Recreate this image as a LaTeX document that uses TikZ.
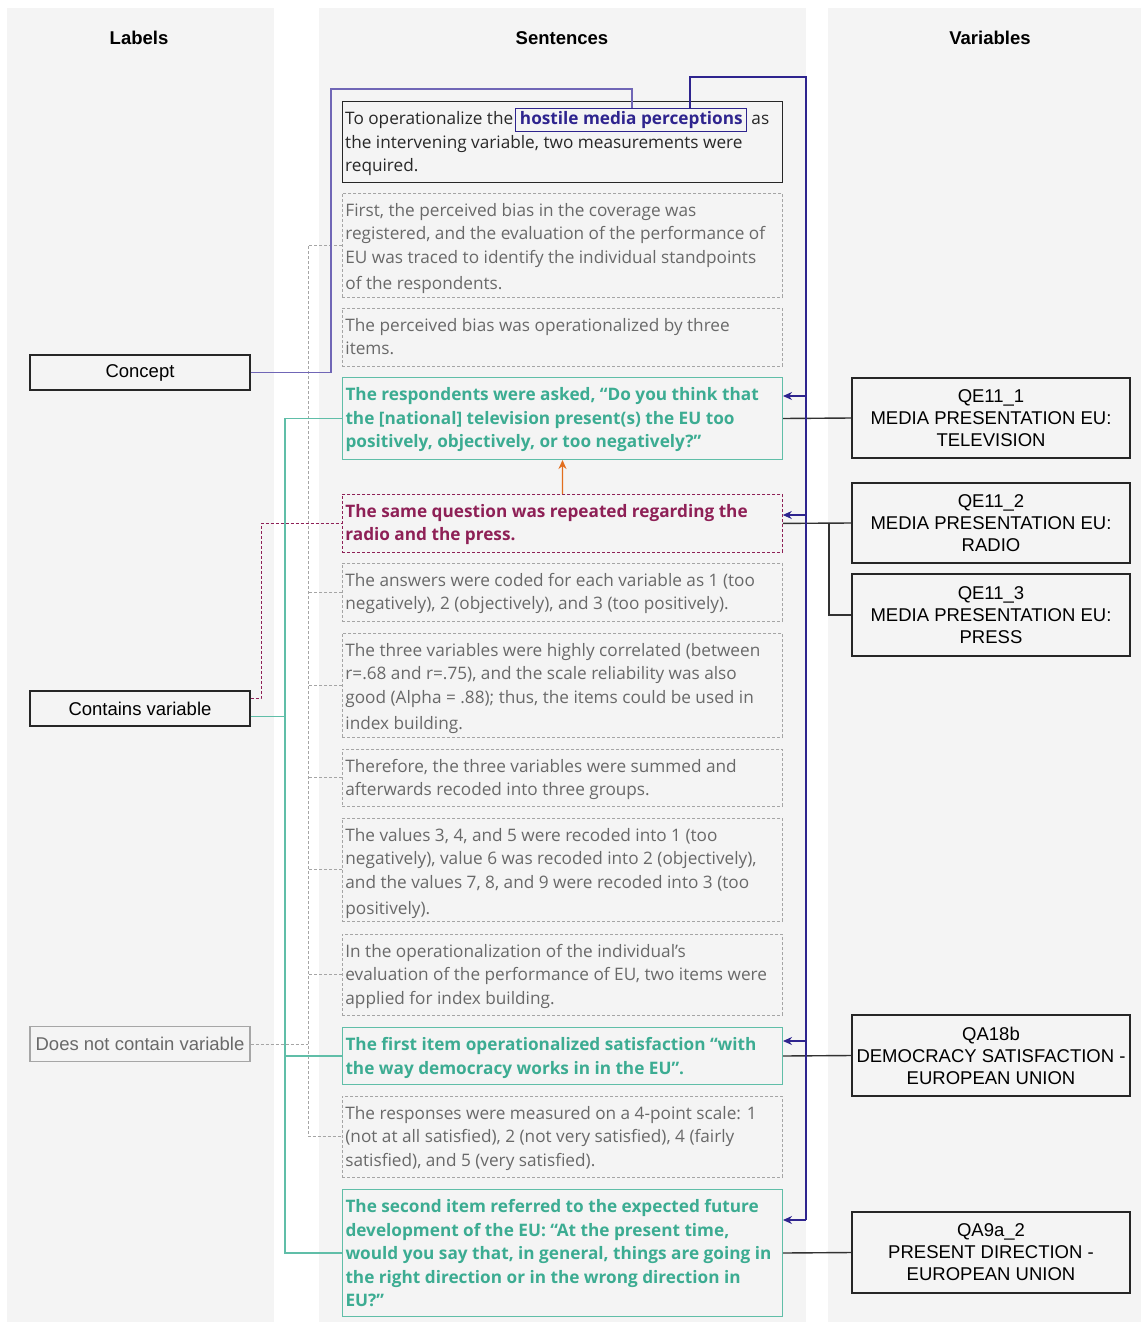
\documentclass[tikz,border=0pt]{standalone}
\usepackage{fontspec}
\setmainfont{Open Sans}
\newfontfamily\arialf{Liberation Sans}
\usetikzlibrary{arrows.meta}
\definecolor{panel}{RGB}{244,244,244}
\definecolor{tealc}{RGB}{60,172,146}
\definecolor{tealb}{RGB}{96,190,168}
\definecolor{maroonc}{RGB}{142,32,86}
\definecolor{navyc}{RGB}{46,36,142}
\definecolor{lnavy}{RGB}{112,102,182}
\definecolor{gtext}{RGB}{105,105,105}
\definecolor{gline}{RGB}{165,165,165}
\definecolor{dtext}{RGB}{40,40,40}
\definecolor{orangec}{RGB}{226,110,30}
\definecolor{vline}{RGB}{50,50,50}
\newcommand{\sbx}[2]{\parbox[c][#1pt][t]{434pt}{\raggedright\rule{0pt}{20pt}#2}}
\tikzset{
  sent/.style={anchor=north west, inner sep=3pt, font=\fontsize{17.2}{23.5}\selectfont, line width=0.8pt},
  graybox/.style={sent, draw=gline, dash pattern=on 3pt off 2pt, text=gtext},
  tealbox/.style={sent, draw=tealb, line width=1pt, text=tealc, font=\fontsize{17.2}{23.5}\selectfont\bfseries},
  maroonbox/.style={sent, draw=maroonc, dash pattern=on 3pt off 2pt, text=maroonc, font=\fontsize{17.2}{23.5}\selectfont\bfseries},
  blackbox/.style={sent, draw=black!85, line width=1.2pt},
  plain/.style={inner sep=0pt, text=dtext, font=\fontsize{17.2}{23.5}\selectfont},
  lab/.style={draw=black!85, line width=1.2pt, minimum width=220pt, minimum height=35pt, inner sep=0pt, font=\arialf\fontsize{18.5}{22}\selectfont},
  labg/.style={lab, draw=black!35, text=gtext},
  varb/.style={draw=black!85, line width=1.2pt, minimum width=278pt, inner sep=0pt, align=center, font=\arialf\fontsize{18.5}{22}\selectfont},
  head/.style={font=\arialf\bfseries\fontsize{18.5}{22}\selectfont},
  tealln/.style={tealb, line width=1.3pt},
  grayln/.style={gline, line width=1pt, dash pattern=on 3pt off 2pt},
  maroonln/.style={maroonc, line width=0.9pt, dash pattern=on 3pt off 2pt},
  navyln/.style={navyc, line width=1.2pt},
  navyarr/.style={navyc, line width=1.2pt, -{Stealth[length=9pt,width=8pt]}},
  varln/.style={vline, line width=1.4pt},
}
\begin{document}
\begin{tikzpicture}[x=1pt,y=-1pt]
\useasboundingbox (0,0) rectangle (1143,1322);
% panels
\fill[panel] (7,8) rectangle (274,1322);
\fill[panel] (319,8) rectangle (806,1322);
\fill[panel] (828,8) rectangle (1141,1322);
% headers
\node[head] (h1) at (139,38) {Labels};
\node[head] (h2) at (562,38) {Sentences};
\node[head] (h3) at (990,38) {Variables};
% sentence boxes
\node[blackbox, minimum width=440pt, minimum height=81pt] (s1) at (342,101) {};
\node[plain, anchor=base west] (l1a) at (345,124.5) {To operationalize the};
\node[inner sep=0pt, anchor=base west, draw=navyc, line width=1pt, inner xsep=4pt, inner ysep=3pt, text=navyc, font=\fontsize{17.2}{23.5}\selectfont\bfseries, xshift=2pt] (hmp) at (l1a.base east) {hostile media perceptions};
\node[plain, anchor=base west, xshift=4pt] (l1b) at (hmp.base east) {as};
\node[plain, anchor=base west] (l1c) at (345,148) {\parbox[t]{434pt}{the intervening variable, two measurements were\\required.}};
\node[graybox] (s2) at (342,193) {\sbx{98}{First, the perceived bias in the coverage was\\registered, and the evaluation of the performance of\\EU was traced to identify the individual standpoints\\[2.5pt]of the respondents.}};
\node[graybox] (s3) at (342,308) {\sbx{52}{The perceived bias was operationalized by three\\items.}};
\node[tealbox] (s4) at (342,377) {\sbx{76}{The respondents were asked, “Do you think that\\the [national] television present(s) the EU too\\positively, objectively, or too negatively?”}};
\node[maroonbox] (s5) at (342,494) {\sbx{52}{The same question was repeated regarding the\\radio and the press.}};
\node[graybox] (s6) at (342,563) {\sbx{52}{The answers were coded for each variable as 1 (too\\negatively), 2 (objectively), and 3 (too positively).}};
\node[graybox] (s7) at (342,633) {\sbx{98}{The three variables were highly correlated (between\\r=.68 and r=.75), and the scale reliability was also\\good (Alpha = .88); thus, the items could be used in\\[2.5pt]index building.}};
\node[graybox] (s8) at (342,749) {\sbx{51}{Therefore, the three variables were summed and\\afterwards recoded into three groups.}};
\node[graybox] (s9) at (342,818) {\sbx{97}{The values 3, 4, and 5 were recoded into 1 (too\\negatively), value 6 was recoded into 2 (objectively),\\and the values 7, 8, and 9 were recoded into 3 (too\\[2.5pt]positively).}};
\node[graybox] (s10) at (342,934) {\sbx{75}{In the operationalization of the individual’s\\evaluation of the performance of EU, two items were\\applied for index building.}};
\node[tealbox] (s11) at (342,1027) {\sbx{51}{The first item operationalized satisfaction “with\\the way democracy works in in the EU”.}};
\node[graybox] (s12) at (342,1096) {\sbx{75}{The responses were measured on a 4-point scale: 1\\(not at all satisfied), 2 (not very satisfied), 4 (fairly\\satisfied), and 5 (very satisfied).}};
\node[tealbox] (s13) at (342,1189) {\sbx{121}{The second item referred to the expected future\\development of the EU: “At the present time,\\would you say that, in general, things are going in\\the right direction or in the wrong direction in\\EU?”}};
% labels
\node[lab] (concept) at (140,372.5) {Concept};
\node[lab] (contains) at (140,708.5) {Contains variable};
\node[labg] (notcont) at (140,1044) {Does not contain variable};
% variables
\node[varb, minimum height=80pt] (v1) at (991,418) {QE11\_1\\MEDIA PRESENTATION EU:\\TELEVISION};
\node[varb, minimum height=80pt] (v2) at (991,523) {QE11\_2\\MEDIA PRESENTATION EU:\\RADIO};
\node[varb, minimum height=82pt] (v3) at (991,615) {QE11\_3\\MEDIA PRESENTATION EU:\\PRESS};
\node[varb, minimum height=81pt] (v4) at (991,1055.5) {QA18b\\DEMOCRACY SATISFACTION -\\EUROPEAN UNION};
\node[varb, minimum height=81pt] (v5) at (991,1252.5) {QA9a\_2\\PRESENT DIRECTION -\\EUROPEAN UNION};
% grey dashed connectors
\coordinate (gx) at (308,0);
\draw[grayln] (notcont.east) -- (notcont.east -| gx);
\draw[grayln] (s2.west) -- (s2.west -| gx) -- (s12.west -| gx) -- (s12.west);
\foreach \s in {s6,s7,s8,s9,s10} \draw[grayln] (\s.west) -- (\s.west -| gx);
% teal connectors
\coordinate (tx) at (285,0);
\coordinate (cvt) at ([yshift=-8pt]contains.east);
\draw[tealln] (cvt) -- (cvt -| tx);
\draw[tealln] (s4.west) -- (s4.west -| tx) -- (s13.west -| tx) -- (s13.west);
\draw[tealln] (s11.west -| tx) -- (s11.west);
% maroon connector
\coordinate (cvm) at ([yshift=10pt]contains.east);
\coordinate (mx) at (261,0);
\draw[maroonln] (cvm) -- (cvm -| mx) -- (s5.west -| mx) -- (s5.west);
% concept connector
\coordinate (ca) at (331,89);
\coordinate (cb) at (632,89);
\draw[lnavy, line width=1.2pt] (concept.east) -- (concept.east -| ca) -- (ca) -- (cb) -- (cb |- hmp.north);
% orange arrow
\draw[orangec, line width=1.3pt, -{Stealth[length=9pt,width=8pt]}] (s5.north) -- (s4.south);
% variable connectors
\coordinate (jx) at (829,0);
\draw[varln] (v1.west) -- (s4.east);
\draw[varln] (v2.west) -- (s5.east);
\draw[varln] (v3.west) -- (v3.west -| jx) -- (s5.east -| jx);
\draw[varln] (v4.west) -- (s11.east);
\draw[varln] (v5.west) -- (s13.east);
% navy connector
\coordinate (na) at (690,77);
\coordinate (nb) at (806,77);
\coordinate (n1) at (806,396);
\coordinate (n2) at (806,515);
\coordinate (n3) at (806,1041);
\coordinate (n4) at (806,1220);
\draw[navyln] (na |- hmp.north) -- (na) -- (nb) -- (n4);
\draw[navyarr] (n1) -- (n1 -| s4.east);
\draw[navyarr] (n2) -- (n2 -| s5.east);
\draw[navyarr] (n3) -- (n3 -| s11.east);
\draw[navyarr] (n4) -- (n4 -| s13.east);
\end{tikzpicture}
\end{document}
